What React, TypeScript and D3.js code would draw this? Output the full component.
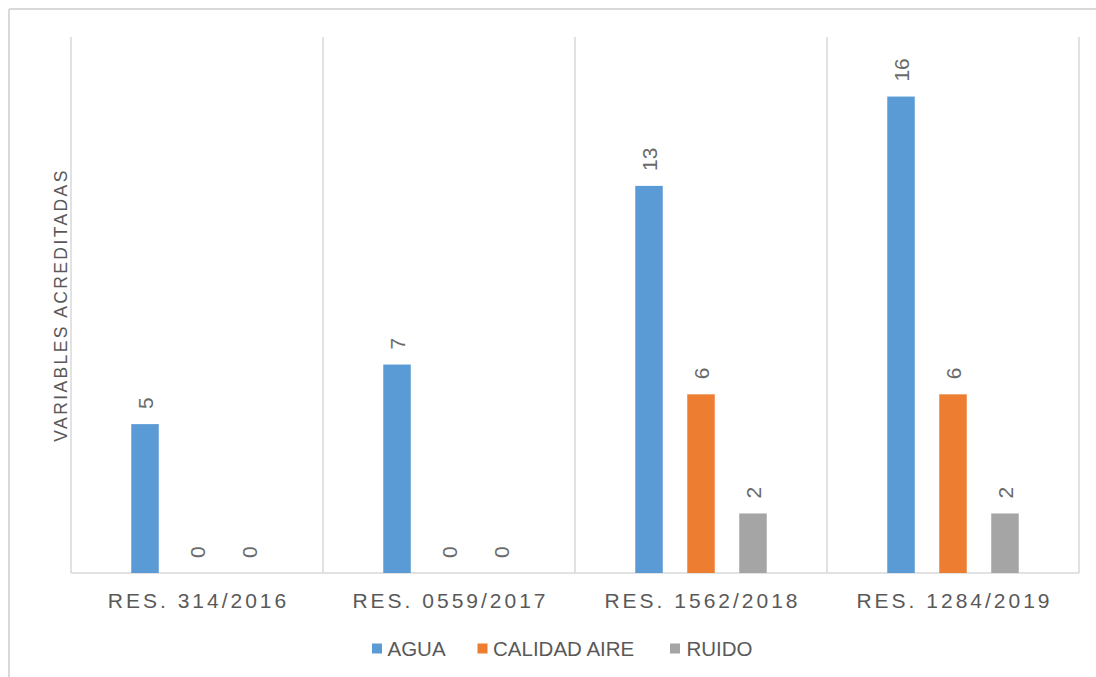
import React from "react";
import * as d3 from "d3";

const categories = ["RES. 314/2016", "RES. 0559/2017", "RES. 1562/2018", "RES. 1284/2019"];
const seriesNames = ["AGUA", "CALIDAD AIRE", "RUIDO"];
const agua = [5, 7, 13, 16];
const calidadAire = [0, 0, 6, 6];
const ruido = [0, 0, 2, 2];
const seriesColors = ["#5B9BD5", "#ED7D31", "#A5A5A5"];
const yTitle = "VARIABLES ACREDITADAS";
const yMax = 18;

export default function App() {
  const W = 1096, H = 677;
  const left = 71, right = 1079, top = 37, bottom = 573;
  const seriesValues = [agua, calidadAire, ruido];

  const x = d3.scaleBand<string>().domain(categories).range([left, right]).padding(0);
  const xs = d3.scaleBand<string>().domain(seriesNames).range([0, x.bandwidth()])
    .paddingInner(0.471).paddingOuter(1.159);
  const y = d3.scaleLinear().domain([0, yMax]).range([bottom, top]);

  const grid = "#D9D9D9";
  const textColor = "#595959";
  const font = "Arial, 'Liberation Sans', sans-serif";

  const boundaries = [...categories.map(c => x(c)!), right];

  const legendItems = [
    { name: seriesNames[0], sq: 372, tx: 387.5 },
    { name: seriesNames[1], sq: 477.5, tx: 493 },
    { name: seriesNames[2], sq: 670, tx: 686.5 },
  ];

  return (
    <svg width={W} height={H} style={{ position: "absolute", left: 0, top: 0, background: "#fff" }} fontFamily={font}>
      <rect x={0} y={0} width={W} height={H} fill="#fff" />
      <line x1={9} y1={9} x2={W} y2={9} stroke={grid} strokeWidth={2} />
      <line x1={9} y1={9} x2={9} y2={H} stroke={grid} strokeWidth={2} />

      {boundaries.map((bx, i) => (
        <line key={"g" + i} x1={bx} x2={bx} y1={top} y2={bottom} stroke={grid} strokeWidth={1.5} />
      ))}
      <line x1={left} x2={right} y1={bottom} y2={bottom} stroke={grid} strokeWidth={1.5} />

      {categories.map((c, ci) => (
        <g key={c}>
          {seriesNames.map((s, si) => {
            const v = seriesValues[si][ci];
            const bx = x(c)! + xs(s)!;
            const bw = xs.bandwidth();
            const by = y(v);
            const cx = bx + bw / 2;
            return (
              <g key={s}>
                {v > 0 && (
                  <rect x={bx} y={by} width={bw} height={bottom - by} fill={seriesColors[si]} />
                )}
                <text
                  transform={`translate(${cx},${by - 15}) rotate(-90)`}
                  textAnchor="start"
                  dy="0.36em"
                  fontSize={21}
                  fill="#6a6a6a"
                >
                  {v}
                </text>
              </g>
            );
          })}
        </g>
      ))}

      {categories.map(c => (
        <text key={"t" + c} x={x(c)! + x.bandwidth() / 2 + 1.5} y={608} textAnchor="middle"
          fontSize={21} letterSpacing={3} fill={textColor}>
          {c}
        </text>
      ))}

      <text transform={`translate(67,305) rotate(-90)`} textAnchor="middle" fontSize={17.5}
        letterSpacing={2.4} fill={textColor}>
        {yTitle}
      </text>

      {legendItems.map((it, i) => (
        <g key={it.name}>
          <rect x={it.sq} y={643.5} width={10} height={10} fill={seriesColors[i]} />
          <text x={it.tx} y={656} fontSize={20.5} fill={textColor}>{it.name}</text>
        </g>
      ))}
    </svg>
  );
}
